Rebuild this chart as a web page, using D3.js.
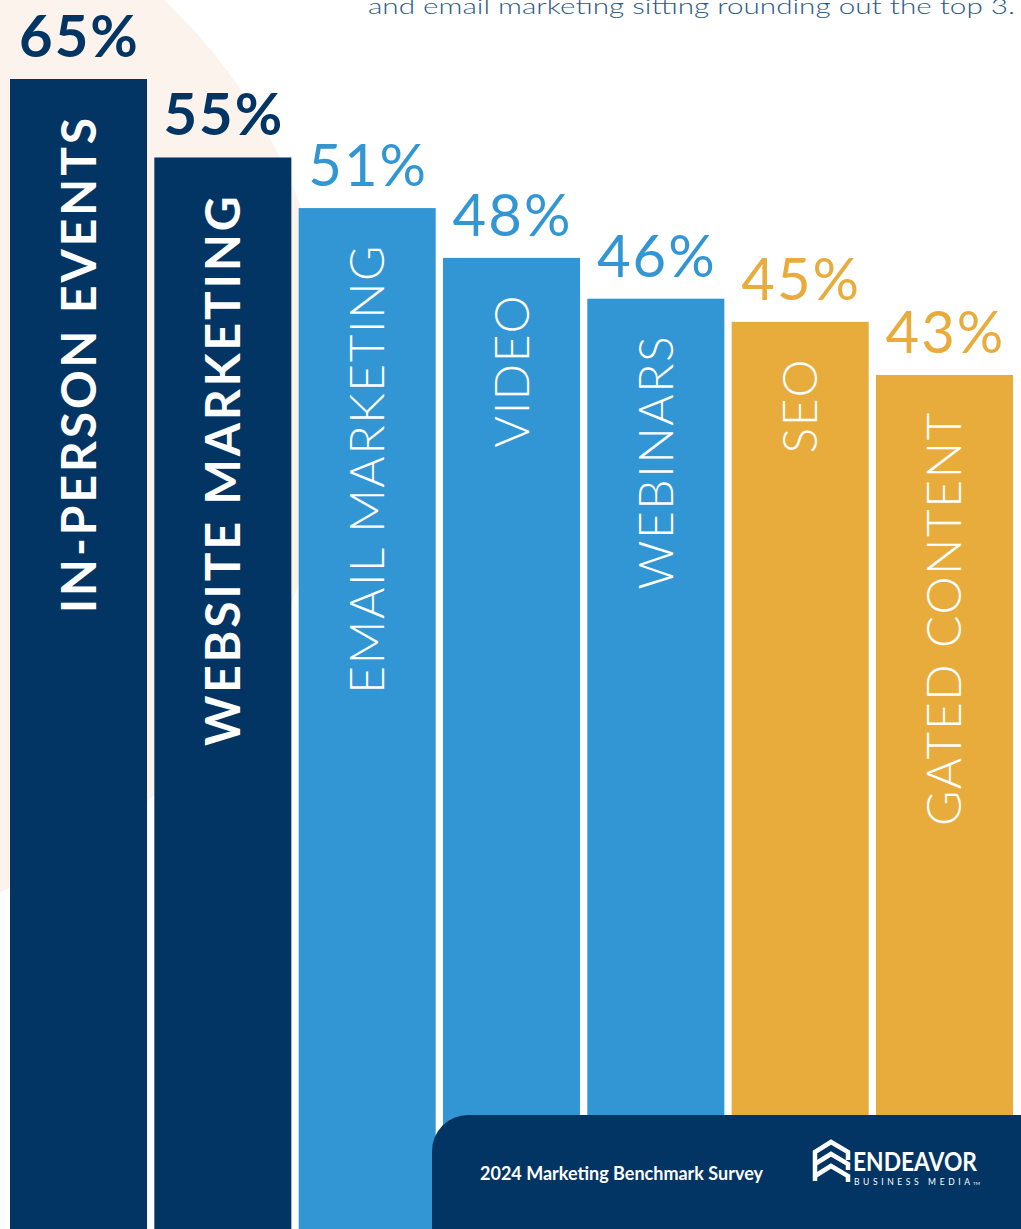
<!DOCTYPE html>
<html>
<head>
<meta charset="utf-8">
<script src="https://cdn.jsdelivr.net/npm/d3@7"></script>
<style>
  html, body { margin: 0; padding: 0; background: #ffffff; }
  svg { display: block; }
</style>
</head>
<body>
<svg id="chart" width="1021" height="1229"></svg>
<script>
// ---- data ----
const categories = ["IN-PERSON EVENTS", "WEBSITE MARKETING", "EMAIL MARKETING", "VIDEO", "WEBINARS", "SEO", "GATED CONTENT"];
const values = [65, 55, 51, 48, 46, 45, 43];
const tiers = ["top", "top", "mid", "mid", "mid", "low", "low"];
const introText = "and email marketing sitting rounding out the top 3.";
const footerText = "2024 Marketing Benchmark Survey";
const brandName = "ENDEAVOR";
const brandSub = "BUSINESS MEDIA";

// ---- setup ----
const W = 1021, H = 1229;
const svg = d3.select("#chart");
const FONT = "Lato, 'Open Sans', 'DejaVu Sans', sans-serif";

const color = d3.scaleOrdinal().domain(["top", "mid", "low"]).range(["#023564", "#3196d3", "#e8ac3d"]);
const x = d3.scaleBand().domain(categories).range([10, 1013]).paddingInner(0.0506).paddingOuter(0);
// the infographic's bar heights are not proportional to the values; a power scale
// with a negative exponent follows the original layout closely
const y = d3.scalePow().exponent(-3).domain([65, 43]).range([79, 375]);

const rows = categories.map((c, i) => ({ cat: c, value: values[i], tier: tiers[i] }));

// background decorative disc
svg.append("circle").attr("cx", -206).attr("cy", 393).attr("r", 540).attr("fill", "#fcf4ec");

// intro text (cut off at top, as in the source)
svg.append("text")
  .attr("x", 368).attr("y", 14)
  .attr("textLength", 647).attr("lengthAdjust", "spacingAndGlyphs")
  .attr("font-family", FONT).attr("font-weight", 300).attr("font-size", 22)
  .attr("fill", "#2e5a86")
  .text(introText);

// bars
svg.append("g").selectAll("rect").data(rows).join("rect")
  .attr("x", d => x(d.cat))
  .attr("y", d => y(d.value))
  .attr("width", x.bandwidth())
  .attr("height", d => H - y(d.value))
  .attr("fill", d => color(d.tier));

// value labels
svg.append("g").selectAll("text").data(rows).join("text")
  .attr("x", d => x(d.cat) + x.bandwidth() / 2 + 1)
  .attr("y", d => y(d.value) - 22)
  .attr("text-anchor", "middle")
  .attr("font-family", FONT)
  .attr("font-size", 58)
  .attr("letter-spacing", 2)
  .attr("font-weight", d => d.tier === "top" ? 700 : 400)
  .attr("fill", d => color(d.tier))
  .text(d => d.value + "%");

// category labels (rotated, inside bars)
svg.append("g").selectAll("text").data(rows).join("text")
  .attr("transform", d => `translate(${x(d.cat) + x.bandwidth() / 2 + 17},${y(d.value) + 36}) rotate(-90)`)
  .attr("text-anchor", "end")
  .attr("font-family", FONT)
  .attr("font-size", 48)
  .attr("font-weight", d => d.tier === "top" ? 700 : 300)
  .attr("letter-spacing", d => d.tier === "top" ? 2.9 : 1.6)
  .attr("fill", "#ffffff")
  .text(d => d.cat);

// footer band
const fx = 432, fy = 1115, fr = 36;
svg.append("path")
  .attr("d", `M${fx},${H} V${fy + fr} A${fr},${fr} 0 0 1 ${fx + fr},${fy} H${W} V${H} Z`)
  .attr("fill", "#023564");

svg.append("text")
  .attr("x", 480).attr("y", 1180)
  .attr("textLength", 283).attr("lengthAdjust", "spacingAndGlyphs")
  .attr("font-family", FONT).attr("font-weight", 700).attr("font-size", 18)
  .attr("fill", "#ffffff")
  .text(footerText);

// logo icon
const logo = svg.append("g").attr("fill", "none").attr("stroke", "#ffffff").attr("stroke-width", 4.5).attr("stroke-linejoin", "miter");
logo.append("path").attr("d", "M815,1181 V1152 L831,1142 L848,1152 V1160");
logo.append("path").attr("d", "M815,1164 L831,1154 L848,1164 V1170");
logo.append("path").attr("d", "M815,1176 L831,1166 L848,1176 V1182");

svg.append("text")
  .attr("x", 853).attr("y", 1171)
  .attr("textLength", 124).attr("lengthAdjust", "spacingAndGlyphs")
  .attr("font-family", FONT).attr("font-weight", 700).attr("font-size", 26)
  .attr("fill", "#ffffff")
  .text(brandName);
svg.append("text")
  .attr("x", 854).attr("y", 1185)
  .attr("textLength", 116).attr("lengthAdjust", "spacing")
  .attr("font-family", FONT).attr("font-weight", 400).attr("font-size", 8.5)
  .attr("fill", "#ffffff")
  .text(brandSub);
svg.append("text")
  .attr("x", 973).attr("y", 1185)
  .attr("font-family", FONT).attr("font-size", 4.5)
  .attr("fill", "#ffffff")
  .text("TM");
</script>
</body>
</html>
